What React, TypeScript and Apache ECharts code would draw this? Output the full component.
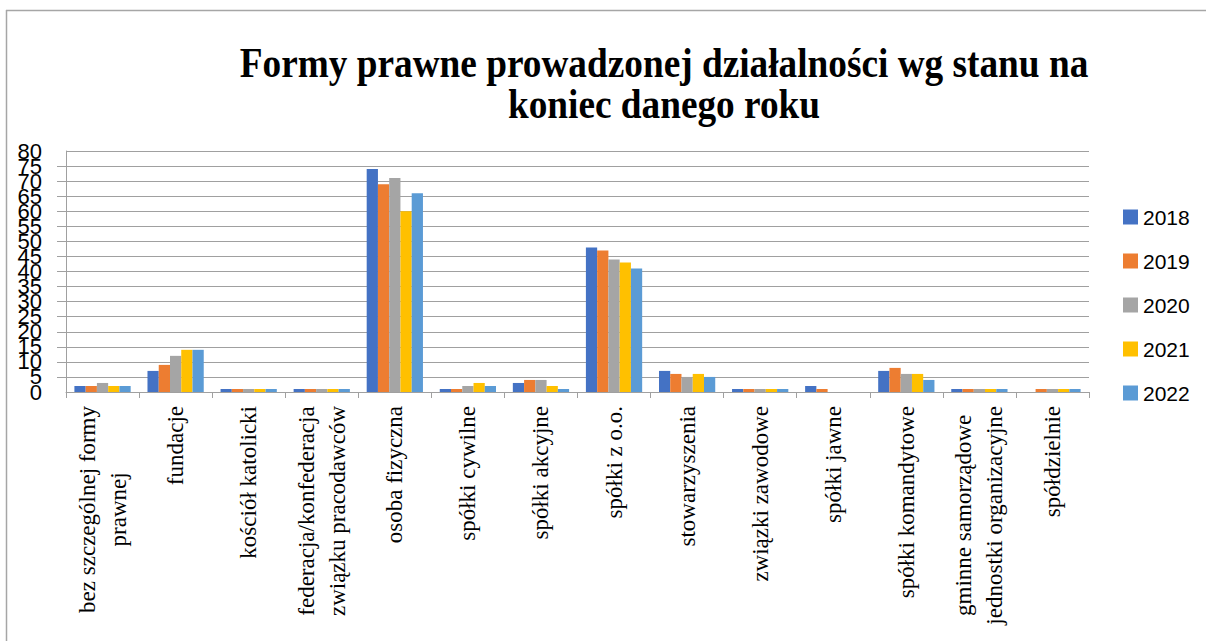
import React, { useEffect, useRef } from "react";
import * as echarts from "echarts";

const categories: string[] = [
  "bez szczególnej formy\nprawnej",
  "fundacje",
  "kościół katolicki",
  "federacja/konfederacja\nzwiązku pracodawców",
  "osoba fizyczna",
  "spółki cywilne",
  "spółki akcyjne",
  "spółki z o.o.",
  "stowarzyszenia",
  "związki zawodowe",
  "spółki jawne",
  "spółki komandytowe",
  "gminne samorządowe\njednostki organizacyjne",
  "spółdzielnie",
];

const years: string[] = ["2018", "2019", "2020", "2021", "2022"];

const v2018: number[] = [2, 7, 1, 1, 74, 1, 3, 48, 7, 1, 2, 7, 1, 0];
const v2019: number[] = [2, 9, 1, 1, 69, 1, 4, 47, 6, 1, 1, 8, 1, 1];
const v2020: number[] = [3, 12, 1, 1, 71, 2, 4, 44, 5, 1, 0, 6, 1, 1];
const v2021: number[] = [2, 14, 1, 1, 60, 3, 2, 43, 6, 1, 0, 6, 1, 1];
const v2022: number[] = [2, 14, 1, 1, 66, 2, 1, 41, 5, 1, 0, 4, 1, 1];

const seriesValues: number[][] = [v2018, v2019, v2020, v2021, v2022];
const colors: string[] = ["#4472C4", "#ED7D31", "#A5A5A5", "#FFC000", "#5B9BD5"];

const yMin = 0;
const yMax = 80;
const yStep = 5;

const titleText = "Formy prawne prowadzonej działalności wg stanu na\nkoniec danego roku";

export default function App() {
  const ref = useRef<HTMLDivElement>(null);
  useEffect(() => {
    if (!ref.current) return;
    const chart = echarts.init(ref.current, undefined, { renderer: "svg" });
    const yLabelStyle = {
      margin: 24,
      fontFamily: "Liberation Sans",
      fontSize: 22,
      color: "#000000",
    };
    const option: any = {
      animation: false,
      backgroundColor: "#ffffff",
      color: colors,
      textStyle: { fontFamily: "Liberation Serif" },
      graphic: [
        {
          type: "line",
          shape: { x1: 6, y1: 10.5, x2: 1206, y2: 10.5 },
          style: { stroke: "#a6a6a6", lineWidth: 1.5 },
          silent: true,
        },
        {
          type: "line",
          shape: { x1: 6.5, y1: 10, x2: 6.5, y2: 641 },
          style: { stroke: "#a6a6a6", lineWidth: 1.5 },
          silent: true,
        },
        {
          type: "group",
          x: 664,
          y: 84,
          scaleX: 0.888,
          children: [
            {
              type: "text",
              x: 0,
              y: 0,
              style: {
                text: titleText,
                fontFamily: "Liberation Serif",
                fontWeight: "bold",
                fontSize: 42,
                lineHeight: 41,
                fill: "#000000",
                textAlign: "center",
                textVerticalAlign: "middle",
              },
            },
          ],
        },
      ],
      legend: {
        orient: "vertical",
        left: 1118,
        top: 201,
        itemWidth: 15,
        itemHeight: 15,
        itemGap: 22,
        icon: "rect",
        data: years,
        textStyle: {
          fontFamily: "Liberation Sans",
          fontSize: 21,
          lineHeight: 22,
          color: "#000000",
        },
      },
      grid: { left: 66, right: 117, top: 151, bottom: 249, containLabel: false },
      xAxis: {
        type: "category",
        data: categories,
        boundaryGap: true,
        axisLine: { show: true, lineStyle: { color: "#a0a0a0", width: 1 } },
        axisTick: { show: true, length: 6, lineStyle: { color: "#a0a0a0" } },
        axisLabel: {
          interval: 0,
          rotate: 90,
          margin: 14,
          fontFamily: "Liberation Serif",
          fontSize: 23,
          lineHeight: 31,
          color: "#000000",
          formatter: (v: string) =>
            v
              .split("\n")
              .map((l) => `{c|${l}}`)
              .join("\n"),
          rich: {
            c: {
              align: "center",
              fontFamily: "Liberation Serif",
              fontSize: 23,
              lineHeight: 31,
              color: "#000000",
            },
          },
        },
      },
      yAxis: [
        {
          type: "value",
          min: yMin,
          max: yMax,
          interval: yStep,
          axisLine: { show: true, lineStyle: { color: "#a0a0a0", width: 1 } },
          axisTick: { show: true, length: 9, lineStyle: { color: "#a0a0a0" } },
          splitLine: { show: true, lineStyle: { color: "#a0a0a0", width: 1 } },
          axisLabel: { ...yLabelStyle, showMinLabel: false, showMaxLabel: false },
        },
        {
          type: "value",
          position: "left",
          min: yMin,
          max: yMax,
          interval: yStep,
          axisLine: { show: false },
          axisTick: { show: false },
          splitLine: { show: false },
          axisLabel: {
            ...yLabelStyle,
            showMinLabel: true,
            showMaxLabel: true,
            formatter: (v: number) => (v === yMin || v === yMax ? String(v) : ""),
          },
        },
      ],
      series: years.map((y, i) => ({
        name: y,
        type: "bar",
        yAxisIndex: 0,
        data: seriesValues[i],
        barGap: "0%",
        barCategoryGap: "23%",
        itemStyle: { color: colors[i] },
      })),
    };
    chart.setOption(option);
    return () => chart.dispose();
  }, []);
  return (
    <div
      ref={ref}
      style={{ position: "fixed", left: 0, top: 0, width: 1206, height: 641 }}
    />
  );
}
